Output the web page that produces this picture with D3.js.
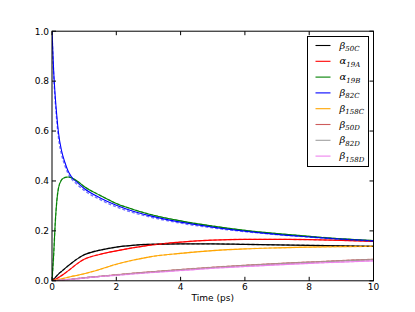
<!DOCTYPE html>
<html>
<head>
<meta charset="utf-8">
<script src="https://cdn.jsdelivr.net/npm/d3@7"></script>
<style>
  body { margin: 0; background: #fff; }
  svg { display: block; font-family: "DejaVu Sans", sans-serif; }
  .tick-label { font-size: 9px; fill: #000; }
  .leg-text { font-family: "DejaVu Serif", serif; font-style: italic; font-size: 10px; }
</style>
</head>
<body>
<div id="chart"></div>
<script>
// time grid (ps)
var time = [0, 0.05, 0.1, 0.15, 0.2, 0.3, 0.4, 0.5, 0.6, 0.8, 1, 1.5, 2, 2.5, 3, 4, 5, 6, 7, 8, 9, 10]

var beta50C  = [0, 0.007, 0.013, 0.02, 0.027, 0.038, 0.049, 0.06, 0.07, 0.089, 0.104, 0.123, 0.135, 0.142, 0.146, 0.148, 0.148, 0.146, 0.144, 0.142, 0.14, 0.138]
var alpha19A = [0, 0.003, 0.006, 0.009, 0.013, 0.021, 0.03, 0.04, 0.05, 0.07, 0.086, 0.106, 0.12, 0.132, 0.142, 0.155, 0.163, 0.166, 0.166, 0.165, 0.162, 0.158]
var alpha19B = [0, 0.1, 0.23, 0.32, 0.37, 0.405, 0.414, 0.416, 0.413, 0.398, 0.378, 0.342, 0.31, 0.287, 0.268, 0.24, 0.219, 0.202, 0.189, 0.178, 0.168, 0.161]
var beta82C  = [1.0, 0.845, 0.74, 0.66, 0.595, 0.52, 0.475, 0.44, 0.418, 0.392, 0.37, 0.332, 0.303, 0.28, 0.262, 0.235, 0.215, 0.199, 0.186, 0.176, 0.167, 0.16]
var beta82Cfit = [1.0, 0.83, 0.72, 0.64, 0.575, 0.505, 0.462, 0.43, 0.41, 0.384, 0.362, 0.325, 0.296, 0.274, 0.257, 0.231, 0.212, 0.197, 0.185, 0.175, 0.166, 0.159]
var beta158C = [0, 0.001, 0.002, 0.004, 0.005, 0.008, 0.011, 0.014, 0.017, 0.022, 0.028, 0.046, 0.066, 0.082, 0.095, 0.11, 0.121, 0.128, 0.132, 0.135, 0.137, 0.138]
var beta50D  = [0, 0.0005, 0.001, 0.0015, 0.002, 0.003, 0.004, 0.005, 0.006, 0.009, 0.012, 0.018, 0.024, 0.03, 0.035, 0.045, 0.054, 0.062, 0.069, 0.075, 0.081, 0.086]
var beta82D  = [0, 0.0005, 0.001, 0.0015, 0.002, 0.003, 0.004, 0.005, 0.006, 0.009, 0.012, 0.018, 0.023, 0.029, 0.034, 0.044, 0.053, 0.061, 0.068, 0.074, 0.08, 0.085]
var beta158D = [0, 0.0005, 0.001, 0.0015, 0.002, 0.003, 0.004, 0.005, 0.006, 0.008, 0.011, 0.017, 0.022, 0.027, 0.032, 0.041, 0.05, 0.057, 0.064, 0.07, 0.075, 0.08]

var xTicks = [0, 2, 4, 6, 8, 10]
var yTicks = [0, 0.2, 0.4, 0.6, 0.8, 1.0]

var series = [
  { sym: 'β', sub: '50C',  color: '#000000', values: beta50C,  fit: beta50C },
  { sym: 'α', sub: '19A',  color: '#ff0000', values: alpha19A, fit: alpha19A },
  { sym: 'α', sub: '19B',  color: '#008000', values: alpha19B, fit: alpha19B },
  { sym: 'β', sub: '82C',  color: '#0000ff', values: beta82C,  fit: beta82Cfit },
  { sym: 'β', sub: '158C', color: '#ffa500', values: beta158C, fit: beta158C },
  { sym: 'β', sub: '50D',  color: '#cd5c5c', values: beta50D,  fit: beta50D },
  { sym: 'β', sub: '82D',  color: '#a0a0a0', values: beta82D,  fit: beta82D },
  { sym: 'β', sub: '158D', color: '#ee82ee', values: beta158D, fit: beta158D }
]

var W = 415, H = 312
var margin = { top: 31.2, right: 41.5, bottom: 31.2, left: 52 }
var width = W - margin.left - margin.right
var height = H - margin.top - margin.bottom

var svg = d3.select('#chart').append('svg')
  .attr('width', W)
  .attr('height', H)

var g = svg.append('g')
  .attr('transform', 'translate(' + margin.left + ',' + margin.top + ')')

var x = d3.scaleLinear().domain([0, 10]).range([0, width])
var y = d3.scaleLinear().domain([0, 1]).range([height, 0])

g.append('clipPath').attr('id', 'clip')
  .append('rect').attr('width', width).attr('height', height)

var lines = g.append('g').attr('clip-path', 'url(#clip)')

function lineOf (arr) {
  return d3.line()
    .x(function (d, i) { return x(time[i]) })
    .y(function (d) { return y(d) })
    .curve(d3.curveMonotoneX)(arr)
}

// data lines
series.forEach(function (s) {
  lines.append('path')
    .attr('d', lineOf(s.values))
    .attr('fill', 'none')
    .attr('stroke', s.color)
    .attr('stroke-width', 1.1)
})
// fitted curves (dashed)
series.forEach(function (s) {
  lines.append('path')
    .attr('d', lineOf(s.fit))
    .attr('fill', 'none')
    .attr('stroke', s.color)
    .attr('stroke-width', 1.4)
    .attr('stroke-opacity', 0.55)
    .attr('stroke-dasharray', '3,2')
})

// frame
g.append('rect')
  .attr('width', width)
  .attr('height', height)
  .attr('fill', 'none')
  .attr('stroke', '#000')
  .attr('stroke-width', 1)

// inward ticks on all sides
var tl = 4
xTicks.forEach(function (t) {
  g.append('line').attr('x1', x(t)).attr('x2', x(t)).attr('y1', height).attr('y2', height - tl).attr('stroke', '#000')
  g.append('line').attr('x1', x(t)).attr('x2', x(t)).attr('y1', 0).attr('y2', tl).attr('stroke', '#000')
  g.append('text').attr('class', 'tick-label')
    .attr('x', x(t)).attr('y', height + 9.5)
    .attr('text-anchor', 'middle')
    .text(d3.format('d')(t))
})
yTicks.forEach(function (t) {
  g.append('line').attr('x1', 0).attr('x2', tl).attr('y1', y(t)).attr('y2', y(t)).attr('stroke', '#000')
  g.append('line').attr('x1', width).attr('x2', width - tl).attr('y1', y(t)).attr('y2', y(t)).attr('stroke', '#000')
  g.append('text').attr('class', 'tick-label')
    .attr('x', -3).attr('y', y(t) + 3.3)
    .attr('text-anchor', 'end')
    .text(d3.format('.1f')(t))
})

g.append('text')
  .attr('class', 'tick-label')
  .attr('x', width / 2)
  .attr('y', height + 20)
  .attr('text-anchor', 'middle')
  .text('Time (ps)')

// legend
var lx = 307.5 - margin.left, ly = 36.5 - margin.top
var rowH = 15.8
var legend = g.append('g').attr('transform', 'translate(' + lx + ',' + ly + ')')
legend.append('rect')
  .attr('width', 61)
  .attr('height', 130)
  .attr('fill', '#fff')
  .attr('stroke', '#000')
  .attr('stroke-width', 1)

series.forEach(function (s, i) {
  var cy = 9 + i * rowH
  legend.append('line')
    .attr('x1', 8).attr('x2', 23)
    .attr('y1', cy).attr('y2', cy)
    .attr('stroke', s.color)
    .attr('stroke-width', 1.1)
  var txt = legend.append('text')
    .attr('class', 'leg-text')
    .attr('x', 32).attr('y', cy + 3)
  txt.append('tspan').text(s.sym)
  txt.append('tspan')
    .attr('dy', 2.5)
    .attr('font-size', '7px')
    .text(s.sub)
})
</script>
</body>
</html>
